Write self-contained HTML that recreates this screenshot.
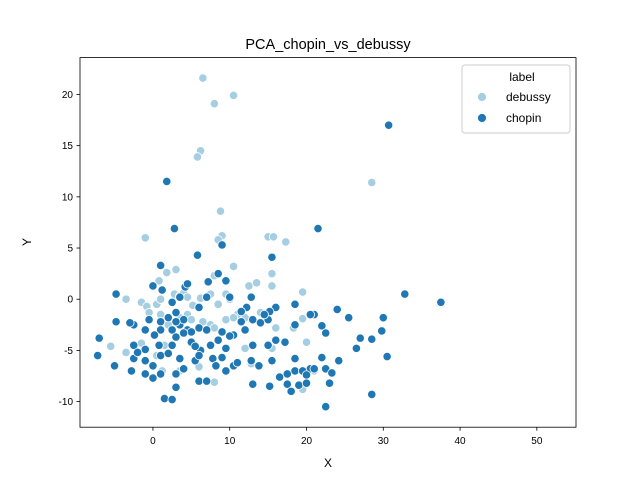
<!DOCTYPE html>
<html><head><meta charset="utf-8"><style>body{margin:0;background:#fff}svg{display:block;font-family:"Liberation Sans","DejaVu Sans",sans-serif}</style></head>
<body>
<svg id="chart" width="640" height="480">
<rect width="640" height="480" fill="#fff"/>
<text x="328" y="49" font-size="14.5" text-anchor="middle">PCA_chopin_vs_debussy</text>
<g id="marks"></g>
<rect x="80" y="57.6" width="496" height="369.6" fill="none" stroke="#000" stroke-width="0.8"/>
<g id="axes"></g>
<text x="328" y="467" font-size="12" text-anchor="middle">X</text>
<text x="31" y="242" font-size="12" text-anchor="middle" transform="rotate(-90 31 242)">Y</text>
<g>
<rect x="462" y="65" width="108" height="68" rx="3" fill="#fff" fill-opacity="0.8" stroke="#ccc"/>
<text x="522" y="81" font-size="12" text-anchor="middle">label</text>
<circle cx="482" cy="97" r="4.6" fill="#a6cee3" stroke="#fff"/>
<text x="506" y="101" font-size="12">debussy</text>
<circle cx="482" cy="118" r="4.6" fill="#1f78b4" stroke="#fff"/>
<text x="506" y="122" font-size="12">chopin</text>
</g>
</svg>
<script>
const xTicks=[0,10,20,30,40,50];
const yTicks=[-10,-5,0,5,10,15,20];
const debussyX=[6.5,8,10.5,6.2,5.8,28.5,8.8,-1,9,8.5,15,15.7,17.3,10.5,15.5,3,1.8,0.8,8,12.5,13.5,15.5,19.5,-3.5,-1.5,-0.8,0.5,1,2.8,3.5,4,4.5,5.2,6.2,7.5,9.5,10,8.5,11,12,10.5,14,18.5,19.5,20,1,3.5,4.5,5,7.5,8,2,-5.5,-3.5,-1.5,1.5,0.5,1.2,3.5,6,8,12.8,19.5,21,12,15.5,18.3,16,6.5,9.5,-0.5];
const debussyY=[21.6,19.1,19.9,14.5,13.9,11.4,8.6,6,6.2,5.8,6.1,6.1,5.6,3.2,2.5,2.9,2.6,1.8,2.3,1.3,1.6,1.3,0.7,0,-0.3,-0.7,-0.5,0,0.5,0.3,0.6,0.2,-0.6,0.1,0.5,0.5,0,-0.5,-1.5,-1.8,-1.8,-1.3,-2.5,-1.9,-4.2,-1.5,-1.8,-1.5,-2,-2.5,-2.8,-2.5,-4.6,-5.2,-4.3,-4.5,-5.5,-7,-7,-6.6,-8.1,-6.3,-8.8,-7,-4.8,-4.8,-2.8,-2.8,-2.2,-2,-1.3];
const chopinX=[1.8,30.7,2.8,21.5,9,15.5,5.8,1,7.2,8.5,9.5,4.2,4.5,0,3.5,1.2,-4.8,7,10,12.8,6,16,18.5,21,24,25.5,30,32.8,37.5,-0.5,1,2,3,3.5,4.5,5,6,7,2.5,1,0.2,-1,-2.5,-4.8,-7,-2.5,-1,0.8,2.5,3,4,5,6.2,7.5,8.5,9,10.5,11.5,12,13,14,15,15.2,12.2,11.5,-2.5,-1,-2.8,0,1,2,3.5,5.5,7.8,9,9.5,10.5,11,12.8,13.8,15,13,-7.2,-5,-1,0,1,3,4,6,7,1.5,2.5,3,5.5,6,9.5,16,18.5,20.5,22,24.2,26.5,27,28.5,29.8,30.5,15.5,16.5,17.5,18.5,19.5,20,21,17.5,18,19,20,15.2,22.5,23.3,23,28.5,22.5,22,22.5,18.5,17.2,14.5,20.5,10,8.2,13,-3,2.5,-2,4,3];
const chopinY=[11.5,17,6.9,6.9,5.3,4.1,4.3,3.3,1.7,2.5,1.8,1.2,1.5,1.3,0.2,0.9,0.5,0.2,0.2,0.2,-0.8,-0.8,-0.5,-1.5,-1,-1.8,-1.8,0.5,-0.3,-2,-2.2,-1.8,-1.3,-2.5,-3,-3.2,-2.8,-3,-3,-3,-3.5,-3,-2.5,-2.2,-3.8,-4.5,-4.9,-4.5,-4.5,-3.7,-3.3,-4.2,-5,-4.5,-4,-3.2,-3.5,-2.2,-3,-2,-2.3,-2,-1.2,-0.8,-1.2,-5.8,-6,-7,-6.5,-5.5,-5.3,-5.8,-6,-5.8,-5.7,-7,-6.5,-6.2,-6,-6.5,-4.5,-4.5,-5.5,-6.5,-7.3,-7.7,-7.3,-7.3,-6.8,-8,-8,-9.7,-9.8,-8.6,-4.6,-5.5,-4.8,-4,-5.8,-6.8,-5.7,-6,-4.8,-3.8,-3.9,-3.1,-5.6,-6,-7.6,-7.3,-7,-7,-7.4,-6.8,-8.3,-9,-8.4,-8.2,-8.5,-6.8,-7.2,-8.2,-9.3,-10.5,-2.6,-3.3,-2.5,-4.2,-1.5,-1.5,-3.6,-6.5,-8.3,-2.3,-0.3,-5.2,-2,-2.2];
const NS='http://www.w3.org/2000/svg';
const L=80,R=576,T=57.6,B=427.2,xMin=-9.5,xMax=55.1,yMin=-12.5,yMax=23.6;
function sx(v){return L+(v-xMin)/(xMax-xMin)*(R-L);}
function sy(v){return B-(v-yMin)/(yMax-yMin)*(B-T);}
const marks=document.getElementById('marks'),axes=document.getElementById('axes');
function mk(tag,attrs,parent){const e=document.createElementNS(NS,tag);for(const k in attrs)e.setAttribute(k,attrs[k]);parent.appendChild(e);return e;}
xTicks.forEach(t=>{const x=sx(t);
const l=mk('line',{x1:x,x2:x,y1:B,y2:B+3.5,stroke:'#000','stroke-width':0.8},axes);


const tx=mk('text',{x:x,y:B+17,'font-size':10,'text-anchor':'middle'},axes);tx.textContent=t;

});
yTicks.forEach(t=>{const y=sy(t);
const l=mk('line',{x1:L-3.5,x2:L,y1:y,y2:y,stroke:'#000','stroke-width':0.8},axes);


const tx=mk('text',{x:L-7,y:y+3.5,'font-size':10,'text-anchor':'end'},axes);tx.textContent=t;

});
function pts(xs,ys,color,name){for(let i=0;i<xs.length;i++){
const c=mk('circle',{cx:sx(xs[i]),cy:sy(ys[i]),r:4.2,fill:color,stroke:'#fff','stroke-width':0.8},marks);

}}
pts(debussyX,debussyY,'#a6cee3','point-debussy');
pts(chopinX,chopinY,'#1f78b4','point-chopin');
</script>
</body></html>
